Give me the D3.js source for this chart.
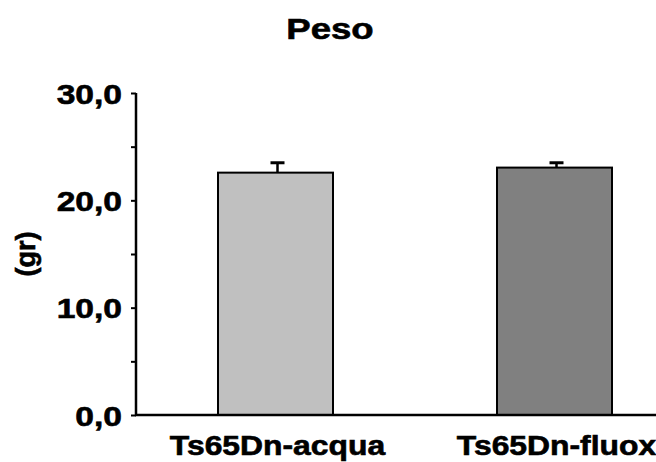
<!DOCTYPE html>
<html>
<head>
<meta charset="utf-8">
<script src="https://cdn.jsdelivr.net/npm/d3@7"></script>
<style>
  body { margin: 0; background: #fff; }
  svg { display: block; }
  text { font-family: Arial, "Liberation Sans", sans-serif; font-weight: bold; fill: #000; stroke: #000; stroke-width: 0.6px; }
</style>
</head>
<body>
<script>
const categories = ["Ts65Dn-acqua", "Ts65Dn-fluox"];
const values = [22.58, 23.05];
const errors = [0.92, 0.45];
const colors = ["#c0c0c0", "#808080"];
const yTicks = [0, 5, 10, 15, 20, 25, 30];
const yLabeled = [0, 10, 20, 30];
const title = "Peso";
const yTitle = "(gr)";

const W = 656, H = 462;
const svg = d3.select("body").append("svg").attr("width", W).attr("height", H);

const y = d3.scaleLinear().domain([0, 30]).range([415, 93]);
const x = d3.scalePoint().domain(categories).range([136, 694]).padding(0.5);
const barW = 115;
const sx = 1.2;

// Bars
svg.selectAll("rect.bar").data(categories).join("rect")
  .attr("class", "bar")
  .attr("x", d => x(d) - barW / 2)
  .attr("y", (d, i) => y(values[i]))
  .attr("width", barW)
  .attr("height", (d, i) => y(0) - y(values[i]))
  .attr("fill", (d, i) => colors[i])
  .attr("stroke", "#000")
  .attr("stroke-width", 2);

// Error bars (upper only)
const eg = svg.selectAll("g.err").data(categories).join("g").attr("class", "err");
eg.append("line")
  .attr("x1", d => x(d) + 2).attr("x2", d => x(d) + 2)
  .attr("y1", (d, i) => y(values[i]))
  .attr("y2", (d, i) => y(values[i] + errors[i]))
  .attr("stroke", "#000").attr("stroke-width", 2.5);
eg.append("line")
  .attr("x1", d => x(d) + 2 - 7).attr("x2", d => x(d) + 2 + 7)
  .attr("y1", (d, i) => y(values[i] + errors[i]))
  .attr("y2", (d, i) => y(values[i] + errors[i]))
  .attr("stroke", "#000").attr("stroke-width", 3);

// Y axis
const yAxis = d3.axisLeft(y).tickValues(yTicks).tickSize(5).tickSizeOuter(0)
  .tickFormat(d => yLabeled.includes(d) ? d3.format(".1f")(d).replace(".", ",") : "");
const ya = svg.append("g").attr("transform", "translate(136,0)").call(yAxis);
ya.select(".domain").attr("stroke-width", 2.5).attr("d", `M0,${y(30)}V${y(0) + 1}`);
ya.selectAll(".tick line").attr("stroke-width", 2);
ya.selectAll(".tick text")
  .attr("x", null)
  .attr("transform", `translate(-14,0) scale(${sx},1)`)
  .style("font-size", "28px")
  .attr("dy", "0.36em");

// X axis line
svg.append("line")
  .attr("x1", 135).attr("x2", W)
  .attr("y1", y(0)).attr("y2", y(0))
  .attr("stroke", "#000").attr("stroke-width", 2.5);

// X labels
svg.selectAll("text.xl").data(categories).join("text")
  .attr("class", "xl")
  .attr("text-anchor", "middle")
  .attr("transform", d => `translate(${x(d) + 2},455) scale(1.18,1)`)
  .style("font-size", "27px")
  .text(d => d);

// Title
svg.append("text")
  .attr("text-anchor", "middle")
  .attr("transform", `translate(330,39) scale(1.22,1)`)
  .style("font-size", "30px")
  .text(title);

// Y title
svg.append("text")
  .attr("text-anchor", "middle")
  .attr("transform", "translate(35,254) rotate(-90) scale(1,1.05)")
  .style("font-size", "27px")
  .text(yTitle);
</script>
</body>
</html>
